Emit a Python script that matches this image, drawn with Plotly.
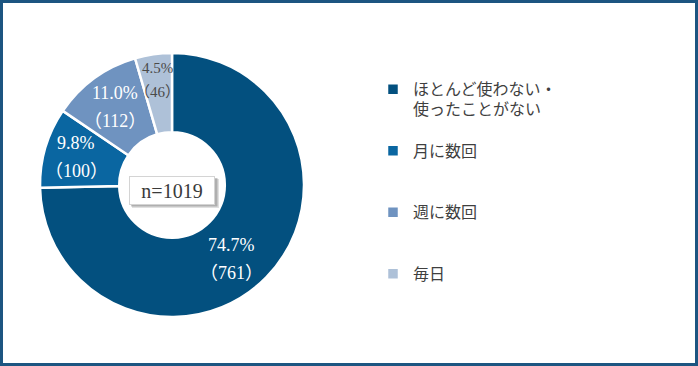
import math
import plotly.graph_objects as go

# ---- data ----
categories = ["ほとんど使わない・使ったことがない", "月に数回", "週に数回", "毎日"]
legend_lines = [["ほとんど使わない・", "使ったことがない"], ["月に数回"], ["週に数回"], ["毎日"]]
counts = [761, 100, 112, 46]
n_total = 1019

# ---- style ----
colors = ["#03507f", "#0a66a1", "#6f93c0", "#aec1d8"]
label_colors = ["white", "white", "white", "#4a4a4a"]
label_sizes = [18, 18, 18, 15]
label_gaps = [28, 28, 28, 24]
label_r = [95, 100, 97, 106]
label_dtheta = [6.5, 0, 0, 0]
W, H = 698, 366
CX, CY, R = 172, 185, 132


def px2x(px):
    return px / W


def px2y(py):
    return 1 - py / H


def legend_text(lines):
    body = "<br>".join('<span style="font-size:16px">%s</span>' % l for l in lines)
    pad = 3 - len(lines)
    return body + "<br>\u3000" * pad


fig = go.Figure(
    go.Pie(
        labels=[legend_text(l) for l in legend_lines],
        values=counts,
        hole=0.4,
        sort=False,
        direction="clockwise",
        rotation=0,
        textinfo="none",
        marker=dict(colors=colors, line=dict(color="white", width=2.5)),
        domain=dict(x=[px2x(CX - R), px2x(CX + R)], y=[px2y(CY + R), px2y(CY - R)]),
        hovertext=categories,
        hoverinfo="text+value+percent",
    )
)

annotations = []
total = sum(counts)
cum = 0
for i, v in enumerate(counts):
    theta = 2 * math.pi * (cum + v / 2) / total + math.radians(label_dtheta[i])
    cum += v
    lx = CX + label_r[i] * math.sin(theta)
    ly = CY - label_r[i] * math.cos(theta)
    pct = "%.1f%%" % (v / total * 100)
    for txt, off in ((pct, -label_gaps[i] / 2), ("（%d）" % v, label_gaps[i] / 2)):
        annotations.append(dict(
            x=px2x(lx), y=px2y(ly + off), xref="paper", yref="paper",
            text=txt, showarrow=False, xanchor="center", yanchor="middle",
            font=dict(family="Liberation Serif, Noto Sans CJK JP", size=label_sizes[i],
                      color=label_colors[i]),
        ))

# n box
BOX_Y = 190
annotations.append(dict(
    x=px2x(CX), y=px2y(BOX_Y), xref="paper", yref="paper",
    text="n=%d" % n_total, showarrow=False, xanchor="center", yanchor="middle",
    font=dict(family="Liberation Serif", size=20, color="#3a3a3a"),
    bgcolor="white", bordercolor="#d4d4d4", borderwidth=1, borderpad=0,
    width=84, height=27,
))

shapes = [
    dict(type="rect", xref="paper", yref="paper", xsizemode="pixel", ysizemode="pixel",
         xanchor=px2x(CX), yanchor=px2y(BOX_Y), x0=-40, x1=47, y0=-18, y1=11,
         fillcolor="rgba(0,0,0,0.12)", line=dict(width=0)),
    dict(type="rect", xref="paper", yref="paper", xsizemode="pixel", ysizemode="pixel",
         xanchor=px2x(CX), yanchor=px2y(BOX_Y), x0=-41, x1=45.5, y0=-16.5, y1=12,
         fillcolor="rgba(0,0,0,0.22)", line=dict(width=0)),
    dict(type="rect", xref="paper", yref="paper", x0=0, x1=1, y0=0, y1=1,
         line=dict(color="#1c5581", width=6), fillcolor="rgba(0,0,0,0)"),
]

fig.update_layout(
    width=W, height=H,
    margin=dict(l=0, r=0, t=0, b=0),
    paper_bgcolor="white",
    plot_bgcolor="white",
    showlegend=True,
    legend=dict(
        x=px2x(373), y=px2y(73), xanchor="left", yanchor="top",
        valign="top",
        font=dict(family="Noto Sans CJK JP", size=15, color="#3f3f3f"),
        bgcolor="rgba(0,0,0,0)",
    ),
    annotations=annotations,
    shapes=shapes,
)

fig.write_html(
    "out.html",
    config={"displayModeBar": False},
    post_script="document.body.style.margin='0';document.body.style.overflow='hidden';",
)
